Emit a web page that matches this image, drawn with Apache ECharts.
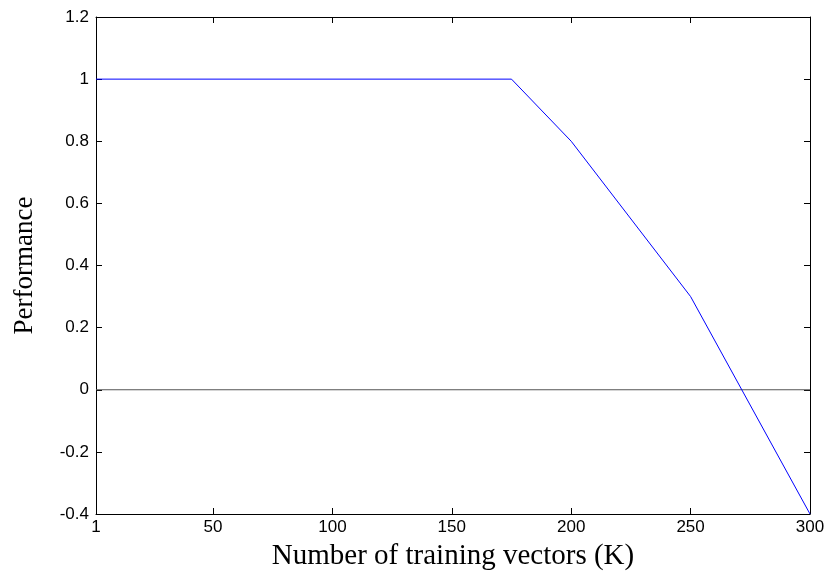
<!DOCTYPE html>
<html>
<head>
<meta charset="utf-8">
<script src="https://cdn.jsdelivr.net/npm/echarts@6/dist/echarts.min.js"></script>
<style>
  html, body { margin: 0; padding: 0; background: #fff; }
  #main { width: 829px; height: 573px; }
</style>
</head>
<body>
<div id="main"></div>
<script>
// data
var xValues = [1, 175, 200, 250, 300];
var perf = [1, 1, 0.8, 0.3, -0.4];
var xTicks = [1, 50, 100, 150, 200, 250, 300];
var zeroLine = [[1, 0], [300, 0]];

var chart = echarts.init(document.getElementById('main'));

var tickFont = { fontFamily: 'Liberation Sans', fontSize: 17, color: '#000' };
var frame = { show: true, onZero: false, lineStyle: { color: '#000', width: 1 } };
var inTick = { show: true, inside: true, length: 6, lineStyle: { color: '#000' } };

var option = {
  animation: false,
  backgroundColor: '#fff',
  grid: { left: 96, right: 19, top: 17, bottom: 59, outerBoundsMode: 'none' },
  xAxis: [
    {
      type: 'value', min: 1, max: 300, position: 'bottom',
      axisLine: frame,
      axisTick: Object.assign({ customValues: xTicks }, inTick),
      axisLabel: Object.assign({ customValues: xTicks, margin: 5 }, tickFont),
      splitLine: { show: false },
      name: 'Number of training vectors (K)',
      nameLocation: 'middle',
      nameGap: 28,
      nameTextStyle: { fontFamily: 'Liberation Serif', fontSize: 29, color: '#000' }
    },
    {
      type: 'value', min: 1, max: 300, position: 'top',
      axisLine: frame,
      axisTick: Object.assign({ customValues: xTicks }, inTick),
      axisLabel: { show: false },
      splitLine: { show: false }
    }
  ],
  yAxis: [
    {
      type: 'value', min: -0.4, max: 1.2, interval: 0.2, position: 'left',
      axisLine: frame,
      axisTick: inTick,
      axisLabel: Object.assign({
        margin: 7,
        formatter: function (v) { return String(+v.toFixed(1)); }
      }, tickFont),
      splitLine: { show: false },
      name: 'Performance',
      nameLocation: 'middle',
      nameGap: 58,
      nameTextStyle: { fontFamily: 'Liberation Serif', fontSize: 27, color: '#000' }
    },
    {
      type: 'value', min: -0.4, max: 1.2, interval: 0.2, position: 'right',
      axisLine: frame,
      axisTick: inTick,
      axisLabel: { show: false },
      splitLine: { show: false }
    }
  ],
  series: [
    {
      type: 'line',
      data: zeroLine,
      symbol: 'none',
      lineStyle: { color: '#555', width: 1 },
      silent: true
    },
    {
      type: 'line',
      data: xValues.map(function (x, i) { return [x, perf[i]]; }),
      symbol: 'none',
      lineStyle: { color: '#0000ff', width: 1 }
    }
  ]
};

chart.setOption(option);
</script>
</body>
</html>
